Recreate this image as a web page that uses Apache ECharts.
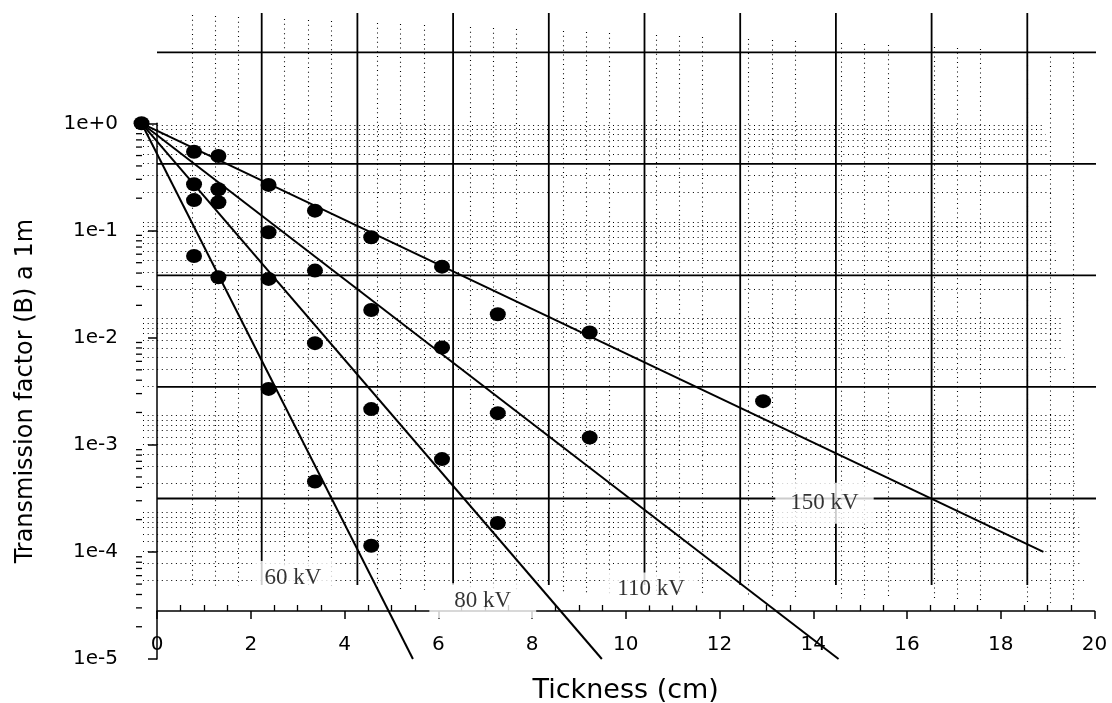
<!DOCTYPE html>
<html>
<head>
<meta charset="utf-8">
<script src="https://cdn.jsdelivr.net/npm/echarts@6/dist/echarts.min.js"></script>
<style>
html,body{margin:0;padding:0;background:#fff}
#c{width:1112px;height:703px}
</style>
</head>
<body>
<div id="c"></div>
<script>
// ---------------- data ----------------
const thickness = [0.79, 1.31, 2.38, 3.37, 4.57, 6.08, 7.27, 9.23, 12.93];   // cm
const b60  = [0.0578, 0.0366, 0.00332, 0.000454, 0.000114];
const b80  = [0.192, 0.183, 0.0353, 0.00887, 0.00215, 0.000734, 0.000186];
const b110 = [0.270, 0.242, 0.0962, 0.0422, 0.0181, 0.00807, 0.00197, 0.001167];
const b150 = [0.543, 0.495, 0.266, 0.153, 0.0864, 0.0459, 0.0165, 0.01114, 0.00255];
const originPoint = [-0.33, 1];
const kvNames = ['60 kV', '80 kV', '110 kV', '150 kV'];
const fitEndX = [5.46, 9.49, 14.54, 18.91];
const fitEndB = [1e-5, 1e-5, 1e-5, 1e-4];
const labelX = [2.9, 6.95, 10.54, 14.24];
const labelB = [5.75e-5, 3.5e-5, 4.5e-5, 2.85e-4];
const xTickStep = 2;
const yDecades = [1, 1e-1, 1e-2, 1e-3, 1e-4, 1e-5];

// ---------------- styling / layout constants ----------------
const yAxisOffset = 15;
const xAxisOffset = -48;
const labelPad = [[5, 12, 5, 12], [6, 25, 6, 25], [4, 13, 6, 13], [9, 15, 9, 15]];
const paper = {
  rowTop0: 124.6, decade: 96.9, rowLeft: 143, rowRight0: 1045, rowRightSlope: 0.085,
  colX0: 191.5, colStep: 23.2, colCount: 38, colTop0: 15, colTopSlope: 0.043, colBot0: 585, colBotSlope: 0.0205,
  hLineY0: 52.3, hLineStep: 111.55, hLineCount: 5, hLineLeft: 157, hLineRight: 1096,
  vLineX0: 261.7, vLineStep: 95.7, vLineCount: 9, vLineTop: 13, vLineBottom: 585
};

const series = [];
const allB = [b60, b80, b110, b150];

// graph paper background
series.push({
  type: 'custom', xAxisIndex: 2, yAxisIndex: 1, z: 1, silent: true, clip: false,
  data: [[0, 0]],
  renderItem: function (params, api) {
    const ch = [];
    const seg = (x1, y1, x2, y2, style) => {
      const a = api.coord([x1, y1]), b = api.coord([x2, y2]);
      ch.push({type: 'line', shape: {x1: a[0], y1: a[1], x2: b[0], y2: b[1]}, style: style});
    };
    const dot = {stroke: '#000', lineWidth: 1.1, lineDash: [1, 3.7]};
    const solid = {stroke: '#000', lineWidth: 1.8};
    for (let k = 0; k < 5; k++) {
      const top = paper.rowTop0 + paper.decade * k;
      for (let m = 10; m >= 2; m--) {
        const y = Math.round(top + paper.decade * (1 - Math.log10(m))) + 0.5;
        const xr = paper.rowRight0 + paper.rowRightSlope * (y - paper.rowTop0);
        seg(paper.rowLeft, y, xr, y, dot);
      }
    }
    for (let n = 0; n <= paper.colCount; n++) {
      if (n % 4 === 3) continue;
      const x = Math.round(paper.colX0 + paper.colStep * n) + 0.5;
      seg(x, paper.colTop0 + paper.colTopSlope * (x - 190), x, paper.colBot0 + paper.colBotSlope * (x - 190), dot);
    }
    for (let i = 0; i < paper.hLineCount; i++) {
      const y = paper.hLineY0 + paper.hLineStep * i;
      seg(paper.hLineLeft, y, paper.hLineRight, y, solid);
    }
    for (let i = 0; i < paper.vLineCount; i++) {
      const x = paper.vLineX0 + paper.vLineStep * i;
      seg(x, paper.vLineTop, x, paper.vLineBottom, solid);
    }
    return {type: 'group', children: ch};
  }
});

// minor log ticks on the y axis
const minorVals = [];
for (let e = -5; e < 0; e++) for (let m = 2; m <= 9; m++) minorVals.push([0, m * Math.pow(10, e)]);
series.push({
  type: 'custom', xAxisIndex: 0, yAxisIndex: 0, z: 3, silent: true, clip: false,
  data: minorVals, encode: {x: 0, y: 1},
  renderItem: function (params, api) {
    const p = api.coord([0, api.value(1)]);
    const x = p[0] - yAxisOffset;
    return {type: 'line', shape: {x1: x - 6, y1: p[1], x2: x, y2: p[1]}, style: {stroke: '#000', lineWidth: 1.3}};
  }
});

// kV labels with white boxes
series.push({
  type: 'scatter', z: 4, silent: true, clip: false, symbolSize: 1,
  itemStyle: {color: 'rgba(0,0,0,0)'},
  data: kvNames.map((n, i) => ({
    value: [labelX[i], labelB[i]], name: n,
    label: {padding: labelPad[i]}
  })),
  label: {
    show: true, position: 'inside', formatter: p => p.name,
    fontFamily: 'Liberation Serif', fontSize: 23, color: '#000',
    backgroundColor: '#fff'
  }
});

// fitted lines (from the common origin point to each end point)
series.push({
  type: 'custom', xAxisIndex: 0, yAxisIndex: 0, z: 5, silent: true, clip: false,
  data: fitEndX.map((x, i) => [originPoint[0], originPoint[1], x, fitEndB[i]]),
  encode: {x: [0, 2], y: [1, 3]},
  renderItem: function (params, api) {
    const a = api.coord([api.value(0), api.value(1)]);
    const b = api.coord([api.value(2), api.value(3)]);
    return {type: 'line', shape: {x1: a[0], y1: a[1], x2: b[0], y2: b[1]},
            style: {stroke: '#000', lineWidth: 2}};
  }
});

// measured points
allB.forEach((b, i) => {
  series.push({
    type: 'scatter', z: 6, silent: true, clip: false, name: kvNames[i],
    symbol: 'circle', symbolSize: [16, 14],
    itemStyle: {color: '#000', opacity: 1},
    data: b.map((v, j) => [thickness[j], v])
  });
});
series.push({
  type: 'scatter', z: 6, silent: true, clip: false,
  symbol: 'circle', symbolSize: [16, 14], itemStyle: {color: '#000', opacity: 1},
  data: [originPoint]
});

const minorCats = [];
for (let v = 0; v <= 20; v += 0.5) minorCats.push(String(v));

const option = {
  animation: false,
  backgroundColor: '#fff',
  grid: [
    {left: 157, right: 17.5, top: 123.3, bottom: 44, outerBoundsMode: 'none', containLabel: false},
    {left: 0, right: 0, top: 0, bottom: 0, outerBoundsMode: 'none', containLabel: false}
  ],
  xAxis: [
    {
      type: 'value', gridIndex: 0, min: 0, max: 20, interval: xTickStep,
      position: 'bottom', offset: xAxisOffset,
      axisLine: {show: true, lineStyle: {color: '#000', width: 1.5}},
      axisTick: {show: true, inside: false, length: 8, lineStyle: {color: '#000', width: 1.5}},
      axisLabel: {color: '#000', fontFamily: 'DejaVu Sans', fontSize: 20, margin: 24},
      splitLine: {show: false},
      name: 'Tickness (cm)', nameLocation: 'middle', nameGap: 66,
      nameTextStyle: {color: '#000', fontFamily: 'DejaVu Sans', fontSize: 27}
    },
    {
      type: 'category', gridIndex: 0, data: minorCats, boundaryGap: false,
      position: 'bottom', offset: xAxisOffset,
      axisLine: {show: false},
      axisTick: {show: true, inside: true, length: 6, interval: (i) => i % 4 !== 0,
                 lineStyle: {color: '#000', width: 1.3}},
      axisLabel: {show: false}, splitLine: {show: false}
    },
    {type: 'value', gridIndex: 1, min: 0, max: 1112, show: false}
  ],
  yAxis: [
    {
      type: 'log', gridIndex: 0, logBase: 10, min: yDecades[yDecades.length - 1], max: yDecades[0],
      offset: yAxisOffset,
      axisLine: {show: true, lineStyle: {color: '#000', width: 1.5}},
      axisTick: {show: true, inside: false, length: 9, lineStyle: {color: '#000', width: 1.5}},
      axisLabel: {
        color: '#000', fontFamily: 'DejaVu Sans', fontSize: 20, margin: 24,
        formatter: v => { const e = Math.round(Math.log10(v)); return '1e' + (e >= 0 ? '+' : '') + e; }
      },
      splitLine: {show: false},
      name: 'Transmission factor (B) a 1m', nameLocation: 'middle', nameGap: 104,
      nameTextStyle: {color: '#000', fontFamily: 'DejaVu Sans', fontSize: 24}
    },
    {type: 'value', gridIndex: 1, min: 0, max: 703, inverse: true, show: false}
  ],
  series: series
};

const chart = echarts.init(document.getElementById('c'), null, {renderer: 'canvas'});
chart.setOption(option);
</script>
</body>
</html>
